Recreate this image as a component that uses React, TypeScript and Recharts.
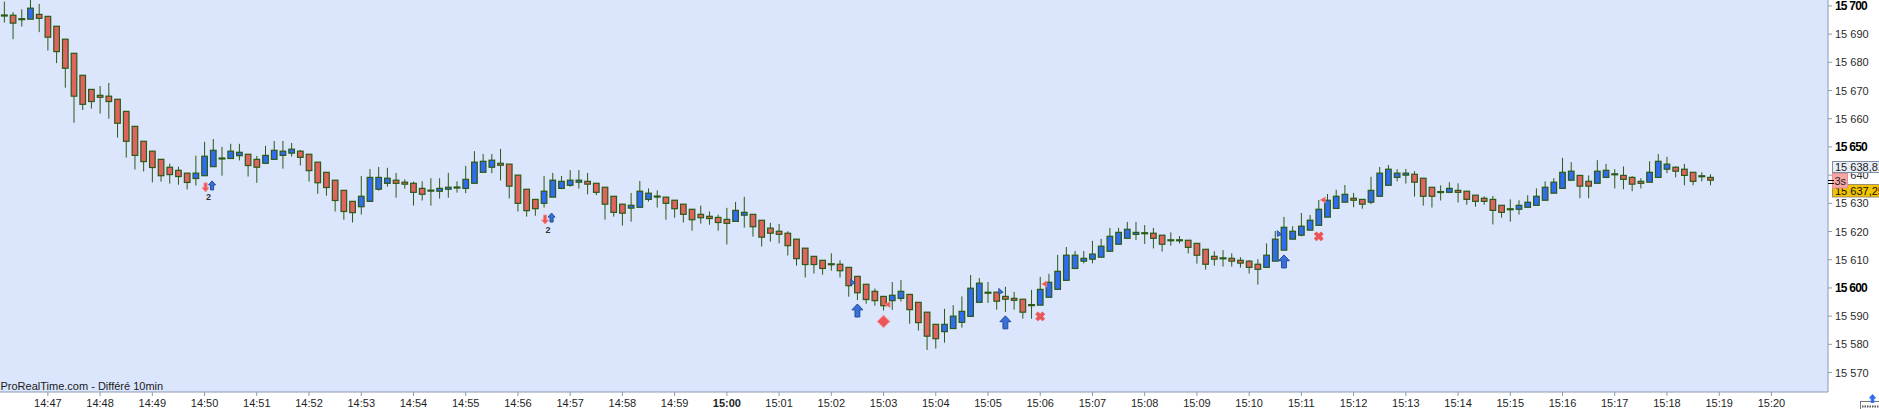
import React from "react";
import { ComposedChart, Bar, Scatter, XAxis, YAxis } from "recharts";

// 10 second candles, first one at 14:46:10, last one at 15:18:50
const opens = [
  15696.6, 15696.7, 15695.3, 15695.3, 15697.0, 15696.3, 15692.8, 15688.2, 15683.2, 15675.4,
  15670.4, 15668.3, 15668.0, 15666.9, 15662.6, 15657.3, 15652.0, 15648.5, 15645.6, 15642.8,
  15641.7, 15640.7, 15638.8, 15639.8, 15643.0, 15645.9, 15645.9, 15646.9, 15647.4, 15645.6,
  15644.2, 15645.6, 15647.0, 15647.8, 15648.5, 15647.4, 15644.6, 15641.0, 15638.2, 15634.6,
  15630.7, 15628.8, 15630.7, 15635.0, 15637.1, 15638.2, 15637.5, 15637.1, 15635.3, 15634.5,
  15634.3, 15635.0, 15635.6, 15635.3, 15637.1, 15641.0, 15642.8, 15644.2, 15643.9, 15640.0,
  15635.0, 15631.4, 15630.0, 15632.2, 15635.3, 15636.4, 15637.5, 15637.8, 15637.1, 15635.7,
  15632.5, 15629.7, 15628.3, 15628.6, 15631.4, 15632.4, 15632.2, 15631.1, 15629.7, 15627.9,
  15626.1, 15625.4, 15625.0, 15624.3, 15623.6, 15625.8, 15626.1, 15624.0, 15621.2, 15620.1,
  15619.4, 15617.3, 15614.1, 15611.2, 15609.8, 15608.4, 15608.4, 15607.3, 15604.1, 15601.3,
  15598.8, 15597.0, 15595.5, 15596.3, 15597.7, 15594.9, 15591.4, 15587.1, 15584.5, 15585.6,
  15587.8, 15589.9, 15594.9, 15598.3, 15598.5, 15597.0, 15596.3, 15596.0, 15593.9, 15593.9,
  15596.7, 15599.5, 15602.7, 15606.9, 15609.5, 15610.2, 15610.9, 15613.0, 15615.5, 15617.6,
  15619.0, 15619.4, 15619.4, 15618.7, 15616.9, 15616.9, 15616.9, 15615.8, 15613.7, 15611.2,
  15610.5, 15610.5, 15609.8, 15609.5, 15608.4, 15607.3, 15609.5, 15613.4, 15617.3, 15618.7,
  15620.5, 15622.2, 15625.1, 15628.2, 15630.4, 15631.8, 15631.4, 15630.4, 15632.5, 15636.4,
  15639.2, 15640.0, 15640.3, 15638.9, 15635.7, 15634.0, 15633.9, 15634.6, 15634.3, 15632.9,
  15631.8, 15631.4, 15629.3, 15627.9, 15627.9, 15628.6, 15629.3, 15631.1, 15633.6, 15635.3,
  15638.2, 15639.9, 15637.8, 15637.1, 15639.2, 15640.3, 15639.9, 15639.2, 15637.8, 15637.5,
  15639.2, 15642.1, 15642.8, 15642.1, 15641.0, 15639.6, 15639.2,
];

const highs = [
  15701.5, 15697.8, 15698.8, 15702.5, 15700.7, 15696.3, 15692.8, 15688.2, 15683.2, 15675.4,
  15670.4, 15671.6, 15672.7, 15666.9, 15662.6, 15657.3, 15652.0, 15648.5, 15645.6, 15644.1,
  15643.0, 15640.7, 15646.9, 15651.8, 15652.8, 15650.0, 15651.1, 15651.1, 15647.4, 15646.8,
  15650.4, 15652.1, 15652.1, 15651.4, 15648.9, 15647.4, 15644.6, 15641.0, 15638.2, 15634.6,
  15630.7, 15639.7, 15642.2, 15642.9, 15642.6, 15640.8, 15638.5, 15637.7, 15637.8, 15638.9,
  15638.9, 15640.8, 15637.8, 15643.3, 15648.5, 15647.5, 15647.5, 15649.3, 15643.9, 15640.0,
  15635.0, 15631.4, 15639.7, 15640.8, 15639.7, 15641.8, 15641.8, 15640.8, 15637.1, 15635.7,
  15632.5, 15629.7, 15633.7, 15637.9, 15635.3, 15634.6, 15632.2, 15631.1, 15629.7, 15627.9,
  15629.2, 15627.1, 15626.0, 15628.4, 15630.5, 15632.3, 15626.1, 15624.0, 15623.1, 15622.7,
  15620.1, 15617.3, 15614.1, 15611.2, 15609.8, 15612.3, 15609.8, 15607.3, 15604.1, 15601.3,
  15599.8, 15597.0, 15602.1, 15602.8, 15597.7, 15594.9, 15591.4, 15587.1, 15592.6, 15593.9,
  15597.0, 15604.6, 15603.5, 15602.1, 15598.5, 15600.4, 15598.6, 15596.0, 15599.3, 15603.9,
  15605.0, 15611.7, 15614.5, 15613.1, 15613.1, 15616.7, 15617.4, 15621.3, 15621.3, 15623.4,
  15623.4, 15622.3, 15621.3, 15618.7, 15619.7, 15618.4, 15616.9, 15615.8, 15613.7, 15613.0,
  15613.4, 15612.3, 15610.9, 15609.8, 15610.2, 15615.8, 15620.2, 15625.2, 15621.9, 15626.6,
  15625.9, 15631.2, 15633.3, 15634.8, 15636.5, 15633.7, 15631.4, 15639.4, 15642.9, 15643.6,
  15642.1, 15642.2, 15641.4, 15638.9, 15635.7, 15636.4, 15637.5, 15637.1, 15634.3, 15632.9,
  15632.5, 15632.6, 15629.3, 15631.4, 15631.1, 15632.9, 15635.3, 15637.8, 15638.9, 15646.1,
  15644.6, 15639.9, 15639.9, 15645.3, 15644.0, 15642.1, 15643.1, 15639.6, 15638.9, 15644.9,
  15647.5, 15646.5, 15643.1, 15644.0, 15641.0, 15641.0, 15640.3,
];

const lows = [
  15694.1, 15688.2, 15692.7, 15695.3, 15690.7, 15684.2, 15679.7, 15671.0, 15658.6, 15663.1,
  15663.6, 15661.8, 15660.0, 15653.3, 15646.2, 15642.0, 15641.3, 15637.4, 15637.7, 15637.0,
  15636.6, 15634.9, 15636.3, 15639.8, 15643.0, 15639.8, 15645.9, 15645.2, 15639.5, 15637.3,
  15643.9, 15645.6, 15642.3, 15646.6, 15643.4, 15637.7, 15633.4, 15632.7, 15627.1, 15624.2,
  15623.2, 15626.0, 15630.7, 15634.5, 15635.9, 15632.0, 15635.2, 15629.2, 15631.0, 15629.2,
  15631.7, 15632.0, 15633.8, 15633.6, 15637.1, 15641.0, 15640.7, 15638.1, 15631.7, 15627.1,
  15625.3, 15625.6, 15628.5, 15632.2, 15635.0, 15635.9, 15635.2, 15633.2, 15632.9, 15624.2,
  15625.3, 15622.1, 15623.5, 15628.6, 15630.6, 15628.5, 15624.2, 15624.9, 15623.2, 15620.3,
  15622.8, 15622.4, 15620.3, 15615.4, 15623.6, 15621.4, 15618.2, 15614.7, 15616.4, 15615.8,
  15611.5, 15607.9, 15603.7, 15605.1, 15604.7, 15606.1, 15603.7, 15596.9, 15595.7, 15594.4,
  15593.7, 15592.0, 15592.2, 15595.2, 15587.3, 15584.9, 15578.0, 15578.5, 15580.6, 15585.6,
  15585.9, 15589.9, 15594.9, 15594.7, 15592.3, 15591.5, 15592.3, 15589.1, 15589.1, 15593.9,
  15596.7, 15599.5, 15602.7, 15606.9, 15608.7, 15608.7, 15610.9, 15613.0, 15615.5, 15617.6,
  15617.0, 15615.6, 15614.0, 15612.9, 15615.0, 15615.8, 15612.2, 15608.6, 15606.5, 15607.9,
  15607.6, 15607.6, 15607.2, 15605.1, 15601.2, 15607.3, 15609.5, 15613.4, 15617.3, 15618.3,
  15620.5, 15622.2, 15625.1, 15628.2, 15630.4, 15628.6, 15628.1, 15629.7, 15632.5, 15636.4,
  15637.8, 15637.0, 15632.4, 15629.2, 15628.5, 15631.0, 15633.6, 15630.3, 15629.5, 15628.8,
  15629.5, 15622.5, 15624.9, 15623.5, 15626.0, 15628.6, 15629.3, 15631.1, 15633.6, 15635.3,
  15638.2, 15631.8, 15631.8, 15637.1, 15639.2, 15635.3, 15635.0, 15634.3, 15635.3, 15637.5,
  15639.2, 15640.7, 15639.2, 15636.4, 15636.4, 15637.8, 15636.4,
];

const closes = [
  15696.6, 15693.9, 15695.3, 15699.2, 15695.6, 15688.9, 15683.8, 15677.9, 15668.0, 15665.1,
  15666.1, 15667.6, 15666.1, 15658.4, 15652.0, 15647.0, 15644.8, 15642.7, 15639.8, 15640.2,
  15639.5, 15637.4, 15640.7, 15646.7, 15648.8, 15645.9, 15648.5, 15648.1, 15643.4, 15642.8,
  15647.0, 15648.8, 15648.5, 15649.2, 15646.3, 15641.6, 15637.3, 15635.6, 15631.0, 15627.1,
  15626.7, 15632.5, 15639.2, 15639.2, 15638.9, 15637.1, 15636.8, 15633.9, 15633.2, 15634.5,
  15635.3, 15635.7, 15635.6, 15638.5, 15644.6, 15644.9, 15645.3, 15643.5, 15636.1, 15630.0,
  15627.4, 15628.1, 15634.3, 15638.2, 15637.8, 15638.2, 15638.2, 15636.8, 15633.9, 15629.7,
  15626.8, 15626.5, 15629.3, 15634.3, 15633.6, 15632.4, 15630.0, 15628.1, 15626.1, 15624.2,
  15624.9, 15624.6, 15623.2, 15622.9, 15627.5, 15626.8, 15621.7, 15618.0, 15619.4, 15619.0,
  15615.0, 15610.4, 15608.3, 15608.3, 15606.9, 15608.4, 15606.1, 15600.8, 15598.3, 15595.9,
  15595.5, 15593.7, 15597.4, 15598.8, 15592.3, 15587.7, 15582.9, 15582.0, 15587.1, 15590.0,
  15591.7, 15599.9, 15601.7, 15598.3, 15595.3, 15596.0, 15595.6, 15591.4, 15593.9, 15599.5,
  15602.0, 15605.9, 15611.6, 15611.6, 15610.5, 15612.0, 15614.8, 15618.3, 15619.7, 15620.8,
  15619.7, 15619.4, 15617.6, 15615.5, 15616.9, 15616.9, 15614.4, 15611.6, 15608.4, 15610.2,
  15610.5, 15609.5, 15608.8, 15607.3, 15606.6, 15611.6, 15617.3, 15621.5, 15620.1, 15621.9,
  15624.0, 15627.9, 15631.1, 15632.5, 15633.2, 15631.1, 15629.7, 15634.6, 15640.7, 15642.1,
  15640.7, 15640.7, 15637.5, 15632.5, 15632.5, 15634.0, 15635.3, 15633.9, 15631.4, 15630.7,
  15630.7, 15627.5, 15626.8, 15627.9, 15629.3, 15630.4, 15632.5, 15635.7, 15637.5, 15641.0,
  15641.4, 15636.1, 15636.1, 15641.4, 15641.7, 15640.3, 15638.5, 15636.8, 15637.1, 15641.0,
  15644.9, 15643.9, 15641.4, 15639.9, 15637.8, 15639.6, 15638.2,
];

// x axis: one label per minute, 14:47 is the 6th candle slot
const timeLabels = [
  "14:47", "14:48", "14:49", "14:50", "14:51", "14:52", "14:53", "14:54", "14:55", "14:56",
  "14:57", "14:58", "14:59", "15:00", "15:01", "15:02", "15:03", "15:04", "15:05", "15:06",
  "15:07", "15:08", "15:09", "15:10", "15:11", "15:12", "15:13", "15:14", "15:15", "15:16",
  "15:17", "15:18", "15:19", "15:20",
];
const FIRST_LABEL_SLOT = 5;
const SLOTS_PER_MINUTE = 6;
const SLOT_COUNT = 210; // visible 10s slots, incl. the empty part on the right

const priceTicks = [
  15570, 15580, 15590, 15600, 15610, 15620, 15630, 15640, 15650, 15660, 15670, 15680, 15690, 15700,
];
const boldTicks = [15600, 15650, 15700];

// trading signals drawn under the candles
const signalIdx = [23, 62, 98, 101, 115, 119, 147, 151];
const signalKind = ["pair", "pair", "up", "diamond", "up", "cross", "up", "cross"];
const signalPrice = [15636.0, 15624.6, 15592.0, 15588.1, 15587.8, 15589.9, 15609.4, 15618.3];

const flagIdx = [97, 101, 114, 119, 146, 151];
const flagKind = ["buy", "sell", "buy", "sell", "buy", "sell"];
const flagPrice = [15602.1, 15594.1, 15598.8, 15601.4, 15619.3, 15631.2];

const BG = "#dbe6fd";
const AXIS = "#8d9ab0";
const UP = "#2f6cf0";
const DOWN = "#e0635f";
const EDGE = "#2b5a14";
const FONT = '"Liberation Sans", Arial, sans-serif';

const rows = Array.from({ length: SLOT_COUNT }, (_, i) => {
  const row: any = { i };
  if (i < opens.length) {
    row.o = opens[i];
    row.h = highs[i];
    row.l = lows[i];
    row.c = closes[i];
  }
  const s = signalIdx.indexOf(i);
  if (s >= 0) {
    row.sig = signalPrice[s];
    row.sigKind = signalKind[s];
  }
  const f = flagIdx.indexOf(i);
  if (f >= 0) {
    row.flag = flagPrice[f];
    row.flagKind = flagKind[f];
  }
  return row;
});

const tickSlots = timeLabels.map((_, k) => FIRST_LABEL_SLOT + k * SLOTS_PER_MINUTE);

function fmtPrice(v: number) {
  return String(v).replace(/\B(?=(\d{3})+(?!\d))/g, " ");
}

function Candle(props: any) {
  const { x, y, width, height, payload } = props;
  if (!payload || payload.h == null || !isFinite(y) || !isFinite(height)) return null;
  const { o, h, l, c } = payload;
  const k = height / (h - l);
  const py = (v: number) => y + (h - v) * k;
  const cx = x + width / 2;
  const top = py(Math.max(o, c));
  const bot = py(Math.min(o, c));
  return (
    <g>
      <line x1={cx} x2={cx} y1={y} y2={y + height} stroke={EDGE} strokeWidth={1} />
      {bot - top < 1.2 ? (
        <rect x={cx - 3.5} y={top - 1.1} width={7} height={2.2} fill={EDGE} />
      ) : (
        <rect
          x={cx - 2.8}
          y={top}
          width={5.6}
          height={bot - top}
          fill={c > o ? UP : DOWN}
          stroke={EDGE}
          strokeWidth={1.2}
        />
      )}
    </g>
  );
}

function upArrow(cx: number, cy: number, w: number, hgt: number, fill: string, stroke: string) {
  const hw = w / 2;
  const sw = w * 0.22;
  const headBase = cy - hgt / 2 + hgt * 0.45;
  return (
    <polygon
      points={`${cx},${cy - hgt / 2} ${cx + hw},${headBase} ${cx + sw},${headBase} ${cx + sw},${cy + hgt / 2} ${cx - sw},${cy + hgt / 2} ${cx - sw},${headBase} ${cx - hw},${headBase}`}
      fill={fill}
      stroke={stroke}
      strokeWidth={1}
    />
  );
}

function downArrow(cx: number, cy: number, w: number, hgt: number, fill: string, stroke: string) {
  const hw = w / 2;
  const sw = w * 0.22;
  const headBase = cy + hgt / 2 - hgt * 0.45;
  return (
    <polygon
      points={`${cx},${cy + hgt / 2} ${cx + hw},${headBase} ${cx + sw},${headBase} ${cx + sw},${cy - hgt / 2} ${cx - sw},${cy - hgt / 2} ${cx - sw},${headBase} ${cx - hw},${headBase}`}
      fill={fill}
      stroke={stroke}
      strokeWidth={1}
    />
  );
}

function Signal(props: any) {
  const { cx, cy, payload } = props;
  if (!payload || !payload.sigKind || !isFinite(cx) || !isFinite(cy)) return null;
  const kind = payload.sigKind;
  if (kind === "pair") {
    return (
      <g>
        {downArrow(cx + 1, cy + 1, 7, 9, "#ec5656", "#f28a8a")}
        {upArrow(cx + 7.5, cy - 1, 7, 9, "#3d70d6", "#1f4c9e")}
        <text x={cx + 4} y={cy + 14} fontSize={9} fontWeight="bold" fill="#333" textAnchor="middle" fontFamily={FONT}>
          2
        </text>
      </g>
    );
  }
  if (kind === "up") return upArrow(cx, cy, 11, 13, "#3d70d6", "#1f4c9e");
  if (kind === "diamond") {
    const r = 6.3;
    return (
      <polygon
        points={`${cx},${cy - r} ${cx + r},${cy} ${cx},${cy + r} ${cx - r},${cy}`}
        fill="#ec5656"
        stroke="#f39a9a"
        strokeWidth={1}
      />
    );
  }
  const d = 3.6;
  return (
    <g stroke="#ec5656" strokeWidth={3.8}>
      <line x1={cx - d} y1={cy - d} x2={cx + d} y2={cy + d} />
      <line x1={cx - d} y1={cy + d} x2={cx + d} y2={cy - d} />
    </g>
  );
}

function Flag(props: any) {
  const { cx, cy, payload } = props;
  if (!payload || !payload.flagKind || !isFinite(cx) || !isFinite(cy)) return null;
  if (payload.flagKind === "buy") {
    return (
      <polygon
        points={`${cx + 2},${cy - 3} ${cx + 6.5},${cy + 1} ${cx + 2},${cy + 3}`}
        fill="#3d70d6"
        stroke="#1f4c9e"
        strokeWidth={0.8}
      />
    );
  }
  return (
    <polygon
      points={`${cx + 1.5},${cy} ${cx + 6.5},${cy - 3} ${cx + 6.5},${cy + 3}`}
      fill="#ec5656"
      stroke="#f28a8a"
      strokeWidth={0.8}
    />
  );
}

function XTick(props: any) {
  const { x, y, payload } = props;
  const label = timeLabels[(payload.value - FIRST_LABEL_SLOT) / SLOTS_PER_MINUTE];
  if (!label) return null;
  return (
    <g>
      <line x1={x} x2={x} y1={y} y2={y + 4} stroke={AXIS} />
      <text
        x={x}
        y={y + 14.5}
        textAnchor="middle"
        fontSize={11}
        fontFamily={FONT}
        fontWeight={label === "15:00" ? "bold" : "normal"}
        fill="#1e1e1e"
      >
        {label}
      </text>
    </g>
  );
}

function YTick(props: any) {
  const { x, y, payload } = props;
  const bold = boldTicks.includes(payload.value);
  return (
    <text
      x={x}
      y={y + 4}
      textAnchor="start"
      fontSize={bold ? 12 : 11}
      fontFamily={FONT}
      fontWeight={bold ? "bold" : "normal"}
      letterSpacing={bold ? -0.8 : 0}
      fill={bold ? "#000" : "#2a2a2a"}
    >
      {fmtPrice(payload.value)}
    </text>
  );
}

export default function App() {
  return (
    <div
      style={{
        position: "absolute",
        left: 0,
        top: 0,
        width: 1879,
        height: 409,
        background: "#fff",
        fontFamily: FONT,
        overflow: "hidden",
      }}
    >
      <div style={{ position: "absolute", left: 0, top: 0, width: 1828, height: 392, background: BG }} />
      <div style={{ position: "absolute", left: 0, top: 0 }}>
        <ComposedChart width={1879} height={409} data={rows} margin={{ top: 0, right: 0, bottom: 0, left: 0 }}>
          <XAxis
            dataKey="i"
            type="category"
            height={17}
            ticks={tickSlots}
            interval={0}
            tick={(p: any) => <XTick {...p} />}
            tickLine={false}
            tickSize={0}
            tickMargin={0}
            axisLine={{ stroke: AXIS }}
          />
          <YAxis
            orientation="right"
            type="number"
            width={51}
            domain={[15563.1, 15702.1]}
            allowDataOverflow
            ticks={priceTicks}
            interval={0}
            tickSize={4}
            tickMargin={3}
            tickLine={{ stroke: AXIS }}
            axisLine={{ stroke: AXIS }}
            tick={(p: any) => <YTick {...p} />}
          />
          <Scatter dataKey="flag" shape={(p: any) => <Flag {...p} />} isAnimationActive={false} />
          <Bar
            dataKey={(d: any) => (d.h == null ? null : [d.l, d.h])}
            shape={(p: any) => <Candle {...p} />}
            isAnimationActive={false}
          />
          <Scatter dataKey="sig" shape={(p: any) => <Signal {...p} />} isAnimationActive={false} />
        </ComposedChart>
      </div>
      <svg
        width={1879}
        height={409}
        style={{ position: "absolute", left: 0, top: 0, pointerEvents: "none" }}
        fontFamily={FONT}
      >
        <text x={0.5} y={389.5} fontSize={11} fill="#1a1a1a">
          ProRealTime.com - Différé 10min
        </text>
        <rect x={1832.5} y={161.5} width={50} height={11} fill="#e9eef7" stroke="#7d8ea6" />
        <text x={1835} y={170.8} fontSize={11} fill="#1a1a1a">
          15 638,81
        </text>
        <rect x={1832.5} y={184.5} width={50} height={12.5} fill="#f3c300" stroke="#9a9070" />
        <text x={1835} y={195} fontSize={11} fill="#111">
          15 637,25
        </text>
        <rect x={1832.5} y={173.5} width={15} height={14.5} fill="#f7a6a6" stroke="#eb8f8f" />
        <text x={1834.5} y={184.5} fontSize={11} fill="#222">
          3s
        </text>
        <line x1={1828} x2={1834} y1={180.5} y2={180.5} stroke="#000" />
        <line x1={1828} x2={1834} y1={183.5} y2={183.5} stroke="#000" />
        <rect x={1860.5} y={401.5} width={20} height={9} fill="#fff" stroke="#777" />
        <line x1={1862} x2={1879} y1={406.5} y2={406.5} stroke="#555" strokeDasharray="1.5 1" strokeWidth={2} />
        {upArrow(1872.5, 398.5, 6, 8, "#2f6cf0", "#2f6cf0")}
      </svg>
    </div>
  );
}
